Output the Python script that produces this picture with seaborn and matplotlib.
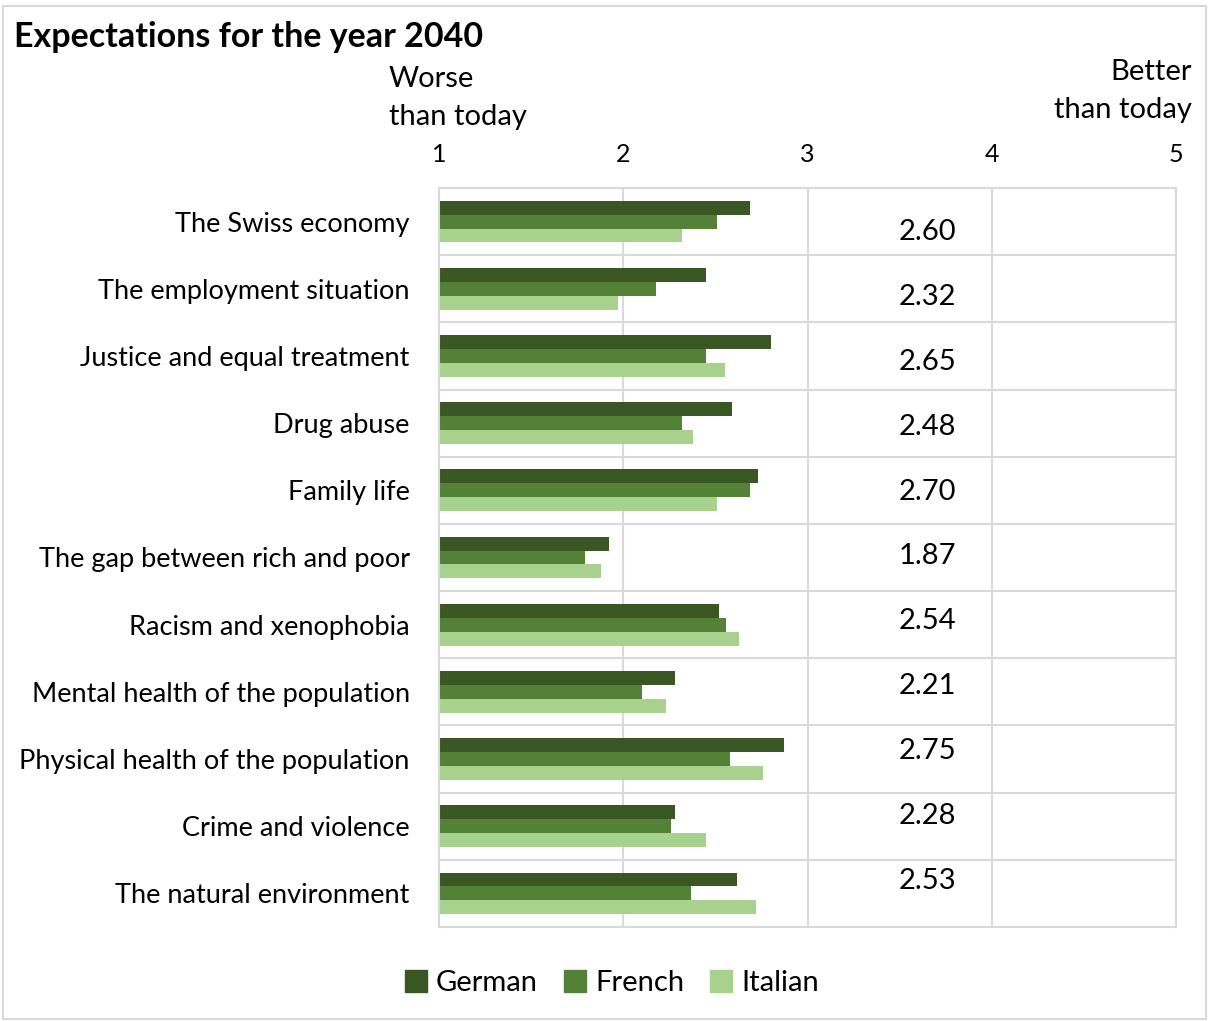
import matplotlib
matplotlib.use("Agg")
import matplotlib.pyplot as plt
import seaborn as sns
import pandas as pd
import numpy as np
from matplotlib.patches import Rectangle

categories = ["The Swiss economy", "The employment situation", "Justice and equal treatment",
              "Drug abuse", "Family life", "The gap between rich and poor",
              "Racism and xenophobia", "Mental health of the population",
              "Physical health of the population", "Crime and violence",
              "The natural environment"]
german = [2.69, 2.45, 2.80, 2.59, 2.73, 1.92, 2.52, 2.28, 2.87, 2.28, 2.62]
french = [2.51, 2.18, 2.45, 2.32, 2.69, 1.79, 2.56, 2.10, 2.58, 2.26, 2.37]
italian = [2.32, 1.97, 2.55, 2.38, 2.51, 1.88, 2.63, 2.23, 2.76, 2.45, 2.72]
overall = [2.60, 2.32, 2.65, 2.48, 2.70, 1.87, 2.54, 2.21, 2.75, 2.28, 2.53]
groups = ["German", "French", "Italian"]
colors = ["#3a5723", "#538135", "#a9d18e"]
xticks = [1, 2, 3, 4, 5]

sns.set_theme(style="white")
plt.rcParams['font.family'] = ['Lato', 'DejaVu Sans']
plt.rcParams['text.color'] = 'black'
plt.rcParams['xtick.color'] = 'black'
plt.rcParams['ytick.color'] = 'black'
plt.rcParams['xtick.labelcolor'] = 'black'
plt.rcParams['ytick.labelcolor'] = 'black'

rows = []
for c, g, f, i in zip(categories, german, french, italian):
    rows += [(c, "German", g), (c, "French", f), (c, "Italian", i)]
df = pd.DataFrame(rows, columns=["cat", "group", "value"])

fig = plt.figure(figsize=(12.08, 10.21), dpi=100)
ax = fig.add_axes([439/1208, 1-927/1021, (1176-439)/1208, (927-188)/1021])

sns.barplot(data=df, y="cat", x="value", hue="group", hue_order=groups,
            palette=colors, orient="h", width=0.62, ax=ax, legend=False,
            edgecolor=None, linewidth=0, saturation=1)

# bars start at 1
for p in ax.patches:
    w = p.get_width()
    p.set_x(1)
    p.set_width(w - 1)

ax.set_xlim(1, 5)
ax.set_ylim(len(categories) - 0.5, -0.5)
ax.xaxis.tick_top()
ax.set_xticks(xticks)
ax.set_xticklabels([str(t) for t in xticks], fontsize=18, color="black")
ax.tick_params(axis="x", length=0, pad=16)
ax.tick_params(axis="y", length=0, pad=21, labelsize=19.5, labelcolor="black")
ax.set_xlabel("")
ax.set_ylabel("")

ax.set_yticks(np.arange(len(categories) - 1) + 0.5, minor=True)
ax.tick_params(which="minor", length=0)
ax.grid(False)
ax.grid(which="minor", axis="y", color="#d9d9d9", linewidth=1.5)
ax.grid(which="major", axis="x", color="#d9d9d9", linewidth=1.5)
ax.set_axisbelow(True)
for s in ax.spines.values():
    s.set_color("#d9d9d9")
    s.set_linewidth(1.5)

# overall value labels
for i, v in enumerate(overall):
    ypos = i + 0.16 - 0.035 * i
    ax.text(3.65, ypos, f"{v:.2f}", ha="center", va="center", fontsize=21, color="black")

fig.text(14/1208, 1-37/1021, "Expectations for the year 2040", fontsize=24.5,
         fontweight="bold", ha="left", va="center", color="black")
fig.text(389/1208, 1-98/1021, "Worse\nthan today", fontsize=21, ha="left", va="center",
         linespacing=1.58, color="black")
fig.text(1192/1208, 1-91/1021, "Better\nthan today", fontsize=21, ha="right", va="center",
         linespacing=1.58, multialignment="right", color="black")

handles = [Rectangle((0, 0), 1, 1, color=c) for c in colors]
fig.legend(handles, groups, loc="center", bbox_to_anchor=(612/1208, 1-983/1021), ncol=3,
           frameon=False, fontsize=21, handlelength=0.75, handleheight=0.75,
           handletextpad=0.3, columnspacing=0.9, labelcolor="black")

fig.patches.append(Rectangle((3/1208, 0.002), 1203/1208, 1-8/1021, transform=fig.transFigure,
                             fill=False, edgecolor="#d9d9d9", linewidth=1.5))

fig.savefig("out.png", dpi=100)
